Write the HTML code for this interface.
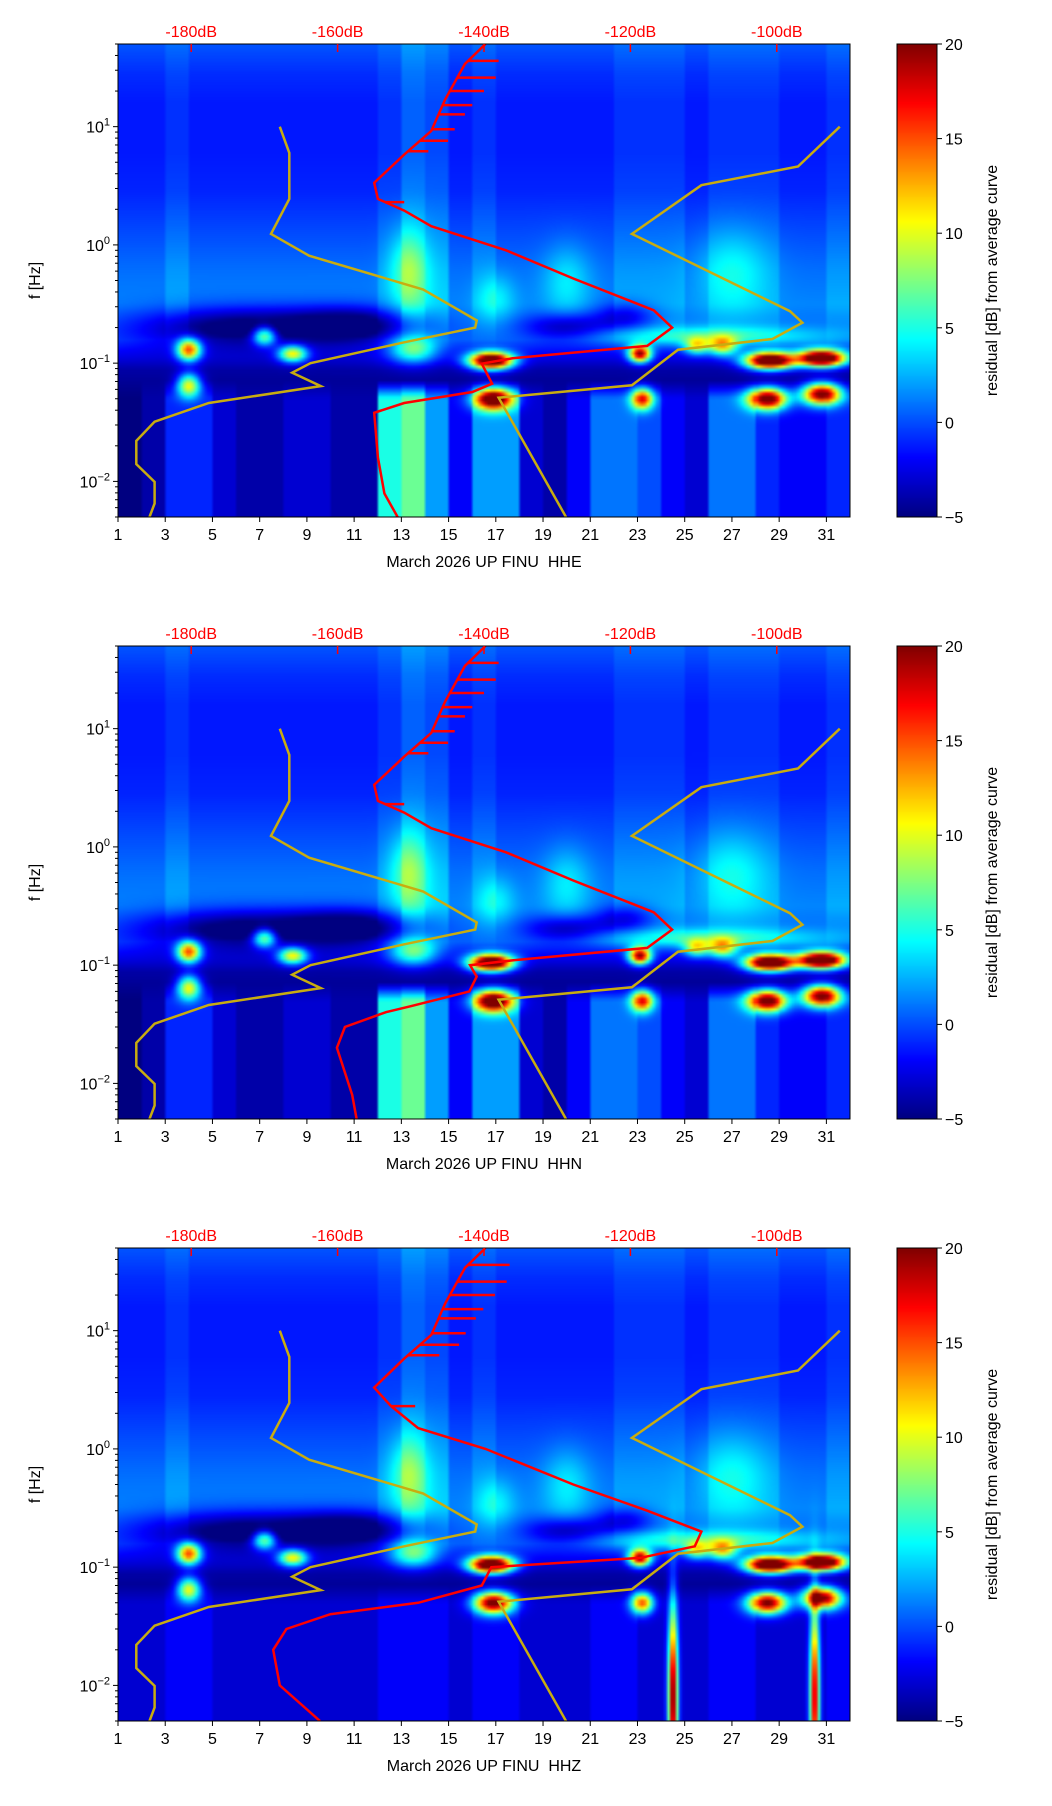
<!DOCTYPE html>
<html><head><meta charset="utf-8">
<style>
html,body{margin:0;padding:0;background:#fff;}
body{width:1052px;height:1806px;position:relative;overflow:hidden;font-family:"Liberation Sans",sans-serif;}
canvas{position:absolute;}
svg{position:absolute;left:0;top:0;}
</style></head>
<body>
<div id="root"></div>
<svg id="ov" width="1052" height="1806"></svg>
<script>
// ---------- data ----------
const dayTicks=[1,3,5,7,9,11,13,15,17,19,21,23,25,27,29,31];
const dbTicks=[-180,-160,-140,-120,-100];
const cbTicks=[20,15,10,5,0,-5];
const panelNames=['HHE','HHN','HHZ'];
// row baseline residual at log10(f) = 1.7,1.45,...,-2.3
const rowBase=[-1,-2,-2.5,-2.5,-2.5,-2.5,-2,-1.5,-1,-0.5,0,-4,-5,-5,-5,-5,-5];
const hheActHigh=[2,2,3,2,2,2,2,2,2,2,2,3,5,4,2,3,2,2,2,2,2,3,3,3,2,3,3,3,2,2,3];
const hhnActHigh=[2,2,3,2,2,2,2,2,2,2,2,3,5,4,2,3,2,2,2,2,2,3,3,3,2,3,3,3,2,2,3];
const hhzActHigh=[2,2,3,2,2,2,2,2,2,2,2,3,5,4,2,3,2,2,2,2,2,3,3,3,2,3,3,3,2,2,3];
const hheActLow=[0,1,4,4,2,1,1,2,2,1,1,10,12,7,3,7,7,2,1,3,6,6,5,3,2,6,6,4,3,3,4];
const hhnActLow=[0,1,4,4,2,1,1,2,2,1,1,10,12,7,3,7,7,2,1,3,6,6,5,3,2,6,6,4,3,3,4];
const hhzActLow=[2,2,3,3,2,2,2,2,2,2,2,3,3,3,2,3,3,2,2,2,3,3,2,2,2,3,3,2,2,2,3];
// blobs: day, freq, delta, width(days), height(decades)
const blobDay=[4.0,4.0,7.2,8.4,13.5,16.8,16.9,23.1,23.2,25.5,26.6,28.6,28.5,30.8,30.8,6.5,11,20,22.5,26,13.3,20,27,17];
const blobFreq=[0.13,0.065,0.17,0.12,0.13,0.105,0.05,0.12,0.05,0.14,0.14,0.105,0.05,0.11,0.055,0.2,0.21,0.2,0.25,0.17,0.6,0.5,0.6,0.35];
const blobVal=[18,14,12,14,9,30,24,22,18,10,12,30,24,30,24,-7,-6,-5,-4,5,5,3,3,3];
const blobW=[0.5,0.5,0.5,0.6,1.0,0.9,0.8,0.45,0.45,0.5,0.6,1.0,0.8,1.0,0.8,4.5,2.5,1.8,1.2,5,0.8,1,1.5,0.8];
const blobH=[0.09,0.1,0.08,0.07,0.12,0.07,0.09,0.07,0.09,0.07,0.08,0.07,0.09,0.07,0.09,0.17,0.15,0.12,0.12,0.08,0.35,0.3,0.35,0.2];
// HHZ-only microseism columns
const zBlobDay=[24.5,30.5];
const zBlobFreq=[0.008,0.008];
const zBlobVal=[24,22];
const zBlobW=[0.2,0.2];
const zBlobH=[0.75,0.75];
// noise models (freq, dB)
const nlnmF=[10,6,2.45,1.24,0.81,0.42,0.23,0.2,0.15,0.1,0.083,0.064,0.046,0.032,0.022,0.014,0.0099,0.0065,0.005];
const nlnmDB=[-167.9,-166.6,-166.6,-169.1,-163.9,-148.3,-141,-141.2,-150.9,-163.7,-166.2,-162.3,-177.6,-185,-187.5,-187.5,-185,-185,-185.7];
const nhnmF=[10,4.6,3.2,1.24,0.275,0.22,0.16,0.13,0.065,0.051,0.005];
const nhnmDB=[-91.4,-97.1,-110.3,-119.8,-98.2,-96.5,-100.6,-113.5,-119.8,-138,-128.8];
// PSD curves
const hheF=[50,34,17,9.2,5.8,3.35,2.45,1.95,1.44,0.9,0.52,0.28,0.2,0.14,0.11,0.099,0.067,0.057,0.046,0.038,0.016,0.0079,0.005];
const hheDB=[-139.8,-142.6,-145.3,-147.2,-150.9,-155,-154.5,-150.9,-147.2,-137,-127.8,-116.8,-114.3,-117.7,-136.1,-140.3,-138.9,-141.6,-150.9,-155,-154.5,-153.6,-151.8];
const hhnF=[50,34,17,9.2,5.8,3.35,2.45,1.95,1.44,0.9,0.52,0.28,0.2,0.14,0.11,0.1,0.08,0.06,0.045,0.04,0.03,0.02,0.008,0.005];
const hhnDB=[-139.8,-142.6,-145.3,-147.2,-150.9,-155,-154.5,-150.9,-147.2,-137,-127.8,-116.8,-114.3,-117.7,-136,-141.9,-141,-142,-150,-153.4,-159,-160.1,-158,-157.4];
const hhzF=[50,34,17,9.2,5.8,3.3,2.3,1.5,1,0.5,0.3,0.2,0.15,0.12,0.1,0.07,0.05,0.04,0.03,0.02,0.01,0.005];
const hhzDB=[-139.8,-142.6,-145.3,-147.2,-150.9,-155,-152.7,-149,-139.8,-127.8,-117.7,-110.3,-111.2,-118.6,-139,-140.3,-149,-161,-167,-168.8,-167.9,-162.4];
const spikeF=[2.3,6.2,7.6,9.5,12.7,15.2,20,26,36];
const spikeDB=[-150.9,-147.6,-144.9,-144,-142.6,-141.6,-140,-138.4,-138];

// ---------- geometry ----------
const X0=118,W=732,H=473,TOPS=[44,646,1248];
const LMAX=Math.log10(50),LMIN=Math.log10(0.005),LSPAN=LMAX-LMIN;
const xDay=d=>X0+(d-1)/31*W;
const xDB=db=>X0+(db+190)/100*W;
const yF=(f,top)=>top+(LMAX-Math.log10(f))/LSPAN*H;
const VMIN=-5,VMAX=20;
function jet(v){let t=Math.max(0,Math.min(1,(v-VMIN)/(VMAX-VMIN)));
 const c=x=>Math.round(255*Math.max(0,Math.min(1,x)));
 return [c(1.5-Math.abs(4*t-3)),c(1.5-Math.abs(4*t-2)),c(1.5-Math.abs(4*t-1))];}
const NS='http://www.w3.org/2000/svg';
const ov=document.getElementById('ov');
function el(tag,attrs,parent){const e=document.createElementNS(NS,tag);for(const k in attrs)e.setAttribute(k,attrs[k]);(parent||ov).appendChild(e);return e;}
function txt(x,y,s,attrs,parent){const t=el('text',Object.assign({x:x,y:y,'font-family':'Liberation Sans, sans-serif','font-size':16},attrs),parent);t.textContent=s;return t;}

const actsHigh=[hheActHigh,hhnActHigh,hhzActHigh];
const actsLow=[hheActLow,hhnActLow,hhzActLow];
const curvesF=[hheF,hhnF,hhzF],curvesDB=[hheDB,hhnDB,hhzDB];

function addBlobs(v,day,L,D,F,V,BW,BH){
 for(let b=0;b<D.length;b++){
  const dx=(day-D[b])/BW[b],dy=(L-Math.log10(F[b]))/BH[b];
  v+=V[b]*Math.exp(-(dx*dx+dy*dy));}
 return v;}
function valueAt(p,day,L){
 const idx=(LMAX-L)/0.25;const i0=Math.max(0,Math.min(rowBase.length-1,Math.floor(idx)));const i1=Math.min(rowBase.length-1,i0+1);const fr=Math.max(0,Math.min(1,idx-i0));
 let v=rowBase[i0]*(1-fr)+rowBase[i1]*fr;
 const di=Math.max(0,Math.min(30,Math.floor(day-1)));
 const wH=Math.max(0,Math.min(1,(L+0.9)/0.4));
 const wL=Math.max(0,Math.min(1,(-1.15-L)/0.15));
 v+=actsHigh[p][di]*wH*(0.6+0.4*Math.max(0,Math.min(1,(0.8-L)/1)));
 v+=actsLow[p][di]*wL;
 v=addBlobs(v,day,L,blobDay,blobFreq,blobVal,blobW,blobH);
 if(p==2)v=addBlobs(v,day,L,zBlobDay,zBlobFreq,zBlobVal,zBlobW,zBlobH);
 return v;}

for(let p=0;p<3;p++){
 const top=TOPS[p];
 const g=el('g',{});
 const cw=31*8,ch=140;
 const sm=document.createElement('canvas');sm.width=cw;sm.height=ch;
 const sctx=sm.getContext('2d');const img=sctx.createImageData(cw,ch);
 for(let j=0;j<ch;j++){const L=LMAX-(j+0.5)/ch*LSPAN;
  for(let i=0;i<cw;i++){const day=1+(i+0.5)/cw*31;const c=jet(valueAt(p,day,L));const k=(j*cw+i)*4;img.data[k]=c[0];img.data[k+1]=c[1];img.data[k+2]=c[2];img.data[k+3]=255;}}
 sctx.putImageData(img,0,0);
 const cv=document.createElement('canvas');cv.width=W;cv.height=H;cv.style.left=X0+'px';cv.style.top=top+'px';
 
 
 const ctx=cv.getContext('2d');ctx.imageSmoothingEnabled=true;ctx.drawImage(sm,0,0,W,H);
 document.getElementById('root').appendChild(cv);
 const cb=document.createElement('canvas');cb.width=40;cb.height=H;cb.style.left='897px';cb.style.top=top+'px';
 
 
 const cbx=cb.getContext('2d');
 for(let j=0;j<H;j++){const c=jet(VMAX-(j+0.5)/H*(VMAX-VMIN));cbx.fillStyle='rgb('+c+')';cbx.fillRect(0,j,40,1);}
 document.getElementById('root').appendChild(cb);
 el('rect',{x:897,y:top,width:40,height:H,fill:'none',stroke:'#000','stroke-width':1,},g);
 cbTicks.forEach(t=>{const y=top+(VMAX-t)/(VMAX-VMIN)*H;el('line',{x1:937,x2:942,y1:y,y2:y,stroke:'#000'},g);
  txt(945,y+6,t<0?'\u2212'+(-t):String(t),{},g);});
 txt(0,0,'residual [dB] from average curve',{'text-anchor':'middle',transform:'translate(997,'+(top+H/2)+') rotate(-90)',},g);
 const clip='clip'+p;const cp=el('clipPath',{id:clip},g);el('rect',{x:X0,y:top,width:W,height:H},cp);
 const cg=el('g',{'clip-path':'url(#'+clip+')'},g);
 const pts=(F,D)=>F.map((f,i)=>xDB(D[i]).toFixed(1)+','+yF(f,top).toFixed(1)).join(' ');
 el('polyline',{points:pts(nlnmF,nlnmDB),fill:'none',stroke:'#c8ac10','stroke-width':2.5,},cg);
 el('polyline',{points:pts(nhnmF,nhnmDB),fill:'none',stroke:'#c8ac10','stroke-width':2.5,},cg);
 el('polyline',{points:pts(curvesF[p],curvesDB[p]),fill:'none',stroke:'#ff0000','stroke-width':2.5,},cg);
 spikeF.forEach((f,i)=>{let k=0;const F=curvesF[p],D=curvesDB[p];while(k<F.length-2&&F[k+1]>f)k++;
  const t=(Math.log10(f)-Math.log10(F[k]))/(Math.log10(F[k+1])-Math.log10(F[k]));const base=D[k]+(D[k+1]-D[k])*t;
  el('line',{x1:xDB(base),x2:xDB(spikeDB[i]+(p==2?1.5:0)),y1:yF(f,top),y2:yF(f,top),stroke:'#ff0000','stroke-width':2.5,},cg);});
 el('rect',{x:X0,y:top,width:W,height:H,fill:'none',stroke:'#000','stroke-width':1,},g);
 dayTicks.forEach(d=>{const x=xDay(d);el('line',{x1:x,x2:x,y1:top+H,y2:top+H+5,stroke:'#000'},g);
  txt(x,top+H+23,String(d),{'text-anchor':'middle',},g);});
 const xl=txt(X0+W/2,top+H+50,'March 2026 UP FINU  '+panelNames[p],{'text-anchor':'middle',},g);
 xl.style.whiteSpace='pre';
 for(let e=-3;e<=1;e++){for(let m=1;m<10;m++){const f=m*Math.pow(10,e);if(f<0.005||f>50)continue;const y=yF(f,top);
  el('line',{x1:X0-(m==1?5:3),x2:X0,y1:y,y2:y,stroke:'#000'},g);
  if(m==1){const t=txt(X0-8,y+6,'10',{'text-anchor':'end',},g);
   const s=el('tspan',{dy:-7,'font-size':11},t);s.textContent=e<0?'\u2212'+(-e):String(e);}}}
 txt(0,0,'f [Hz]',{'text-anchor':'middle',transform:'translate(40,'+(top+H/2)+') rotate(-90)',},g);
 dbTicks.forEach(db=>{const x=xDB(db);el('line',{x1:x,x2:x,y1:top,y2:top+8,stroke:'#ff0000','stroke-width':1.5},g);
  txt(x,top-7,db+'dB',{'text-anchor':'middle',fill:'#ff0000',},g);});
}
</script>
</body></html>
